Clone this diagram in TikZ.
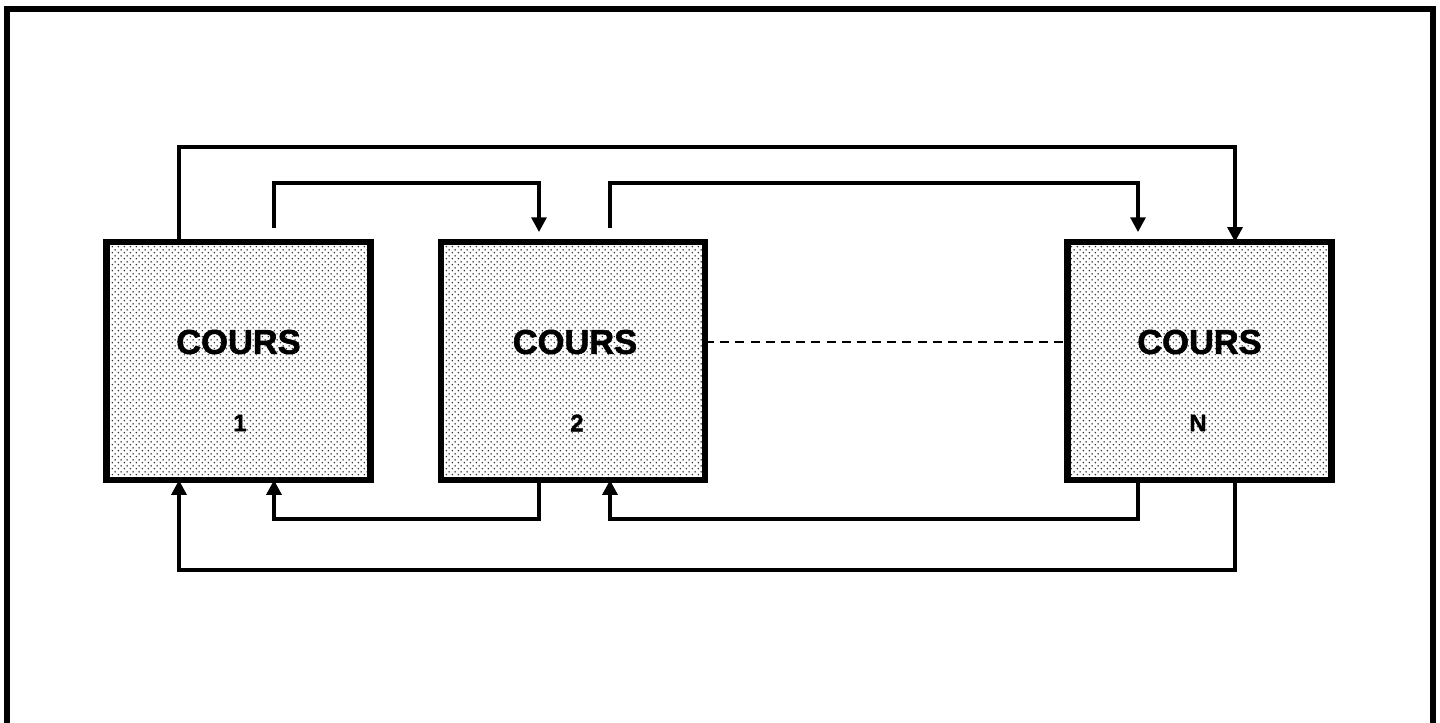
\documentclass[tikz,border=0pt]{standalone}
\usepackage{fontspec}
\setmainfont{Liberation Sans}
\newfontfamily\epais[BoldFont={Liberation Sans Bold},BoldFeatures={FakeBold=1.6}]{Liberation Sans}
\usepackage{tikz}
\usetikzlibrary{
	positioning,
	arrows.meta,
	patterns,
	calc
}
\definecolor{DotGray}{RGB}{50,50,50}

\pgfdeclarepatternformonly{cours dots}{\pgfpointorigin}{\pgfqpoint{4.4pt}{4.4pt}}{\pgfqpoint{4.4pt}{4.4pt}}{%
	\pgfpathcircle{\pgfqpoint{1.1pt}{1.1pt}}{0.65pt}
	\pgfpathcircle{\pgfqpoint{3.3pt}{3.3pt}}{0.65pt}
	\pgfusepath{fill}}

\tikzset{
	cours/.style={
		draw=black,
		line width=4.8pt,
		pattern=cours dots,
		pattern color=DotGray,
		minimum width=6.6cm,
		minimum height=5.95cm,
		outer sep=0pt,
		inner sep=0pt
	},
	titre/.style={font=\epais\fontsize{24.5}{28}\selectfont\bfseries},
	numero/.style={font=\epais\fontsize{17}{20}\selectfont\bfseries},
	fleche/.style={
		line width=2.5pt,
		-{Triangle[length=10.5pt,width=10.5pt]}
	},
	lien/.style={line width=2.1pt}
}

\begin{document}
\begin{tikzpicture}[x=0.025cm,y=-0.025cm]
				
				\useasboundingbox (0,0) rectangle (1440,723);
				
				% cadre ouvert en bas
				\draw[line width=3.8pt] (7,723) -- (7,9) -- (1433,9) -- (1433,723);
				
				% les cours
				\node[cours] (c1) at (238.5,361) {};
				\node[cours] (c2) at (573,361) {};
				\node[cours] (cN) at (1199.5,361) {};
				
				\node[titre] (t1) at (238.5,342) {COURS};
				\node[titre] (t2) at (575,342) {COURS};
				\node[titre] (tN) at (1199.5,342) {COURS};
				
				\node[numero] (n1) at (240,423) {1};
				\node[numero] (n2) at (577,423) {2};
				\node[numero] (nN) at (1198,423) {N};
				
				% liaisons du haut
				\draw[fleche] (c1.north -| 179,0) |- (0,147 -| 1235,0) -- (cN.north -| 1235,0);
				
				\draw[
				fleche,
				shorten <=10pt,
				shorten >=7pt
				] (c1.north -| 274,0) |- (0,183 -| 539,0) -- (c2.north -| 539,0);
				
				\draw[
				fleche,
				shorten <=10pt,
				shorten >=7pt
				] (c2.north -| 610,0) |- (0,183 -| 1138,0) -- (cN.north -| 1138,0);
				
				% liaisons du bas
				\draw[fleche] (c2.south -| 539,0) |- (0,519 -| 274,0) -- (c1.south -| 274,0);
				
				\draw[fleche] (cN.south -| 1138,0) |- (0,519 -| 610,0) -- (c2.south -| 610,0);
				
				\draw[fleche] (cN.south -| 1235,0) |- (0,570 -| 179,0) -- (c1.south -| 179,0);
				
				% suite des cours
				\draw[
				lien,
				dash pattern=on 6.4pt off 4.4pt
				] (t2 -| c2.east) -- (t2 -| cN.west);
				
			\end{tikzpicture}
\end{document}
